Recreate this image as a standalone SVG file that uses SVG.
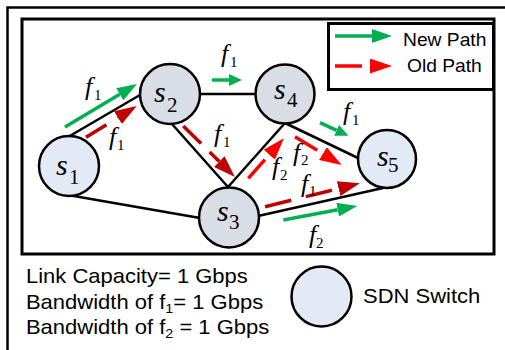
<svg xmlns="http://www.w3.org/2000/svg" width="505" height="350" viewBox="0 0 505 350">
<style>
.frame{fill:none;stroke:#000}
.edge{stroke:#000;stroke-width:2.5;fill:none}
.node{stroke:#000;stroke-width:2.5}
.gray{fill:#d9dde5}
.light{fill:#e4eaf5}
.g{stroke:#00b050;stroke-width:3.5;fill:none}
.r{stroke:#ff0000;stroke-width:3.5;fill:none}
.rd{stroke:#c00000;stroke-width:3.5;fill:none}
.sl{font-family:"Liberation Serif","Times New Roman",serif;font-style:italic;font-size:30px;fill:#000}
.ss{font-family:"Liberation Serif","Times New Roman",serif;font-style:normal;font-size:21px;fill:#000}
.fl{font-family:"Liberation Serif","Times New Roman",serif;font-style:italic;font-size:26px;fill:#000}
.fs{font-family:"Liberation Serif","Times New Roman",serif;font-style:normal;font-size:15px;fill:#000}
.sans{font-family:"Liberation Sans",Arial,sans-serif;fill:#000}
</style>
<defs>
<marker id="gh" markerUnits="userSpaceOnUse" viewBox="0 0 20 14" markerWidth="20" markerHeight="14" refX="0" refY="7" orient="auto"><path d="M0,0 L20,7 L0,14 z" fill="#00b050"/></marker>
<marker id="ghs" markerUnits="userSpaceOnUse" viewBox="0 0 13 12" markerWidth="13" markerHeight="12" refX="0" refY="6" orient="auto"><path d="M0,0 L13,6 L0,12 z" fill="#00b050"/></marker>
<marker id="rh" markerUnits="userSpaceOnUse" viewBox="0 0 22 15" markerWidth="22" markerHeight="15" refX="0" refY="7.5" orient="auto"><path d="M0,0 L22,7.5 L0,15 z" fill="#ff0000"/></marker>
<marker id="rhd" markerUnits="userSpaceOnUse" viewBox="0 0 22 15" markerWidth="22" markerHeight="15" refX="0" refY="7.5" orient="auto"><path d="M0,0 L22,7.5 L0,15 z" fill="#c00000"/></marker>
</defs>
<rect width="505" height="350" fill="#fff"/>
<g id="frames">
<rect class="frame" x="7.5" y="7.5" width="520" height="370" stroke-width="2.5"/>
<rect class="frame" x="22" y="19" width="472" height="235" stroke-width="3"/>
</g>
<g id="connectors">
<line class="edge" x1="68" y1="137" x2="140" y2="95"/>
<line class="edge" x1="68" y1="195" x2="200" y2="218"/>
<line class="edge" x1="200" y1="94" x2="256" y2="94"/>
<line class="edge" x1="172" y1="124" x2="228" y2="187"/>
<line class="edge" x1="285" y1="123" x2="228" y2="187"/>
<line class="edge" x1="285" y1="123" x2="358" y2="158"/>
<line class="edge" x1="258" y1="216" x2="383" y2="188"/>
<line class="g" x1="65" y1="127" x2="119.8" y2="94.3" marker-end="url(#gh)"/>
<line class="g" x1="212" y1="80" x2="229" y2="80" marker-end="url(#ghs)"/>
<line class="g" x1="320" y1="122.7" x2="336.6" y2="130.4" marker-end="url(#ghs)"/>
<line class="g" x1="283.3" y1="220" x2="337.6" y2="209.7" marker-end="url(#gh)"/>
<line class="rd" x1="86" y1="137.3" x2="118" y2="117.6" stroke-dasharray="24 13" marker-end="url(#rhd)"/>
<line class="rd" x1="183.3" y1="126" x2="219.3" y2="161.6" stroke-dasharray="25 12" marker-end="url(#rhd)"/>
<line class="r" x1="248.3" y1="178.3" x2="269.3" y2="154.7" stroke-dasharray="25 12" marker-end="url(#rh)"/>
<line class="r" x1="295" y1="136.7" x2="322.9" y2="153.6" stroke-dasharray="26 12" marker-end="url(#rh)"/>
<line class="rd" x1="265" y1="206.7" x2="338.6" y2="188.6" stroke-dasharray="27 15" marker-end="url(#rhd)"/>
</g>
<g id="flow-labels">
<text class="fl" x="85" y="95">f</text><text class="fs" x="94" y="100">1</text>
<text class="fl" x="109" y="145">f</text><text class="fs" x="117" y="150">1</text>
<text class="fl" x="221" y="62">f</text><text class="fs" x="230" y="67">1</text>
<text class="fl" x="214" y="142">f</text><text class="fs" x="223" y="147">1</text>
<text class="fl" x="343" y="120">f</text><text class="fs" x="352" y="125">1</text>
<text class="fl" x="272" y="175">f</text><text class="fs" x="280" y="180">2</text>
<text class="fl" x="293" y="161">f</text><text class="fs" x="301" y="165">2</text>
<text class="fl" x="301" y="192">f</text><text class="fs" x="309" y="196">1</text>
<text class="fl" x="309" y="243">f</text><text class="fs" x="316" y="248">2</text>
</g>
<g id="s1"><circle class="node light" cx="69" cy="166" r="30"/><text class="sl" x="56" y="175">s</text><text class="ss" x="69" y="184">1</text></g>
<g id="s2"><circle class="node gray" cx="170" cy="94" r="30"/><text class="sl" x="154" y="102">s</text><text class="ss" x="167" y="112">2</text></g>
<g id="s3"><circle class="node gray" cx="229" cy="217.5" r="30"/><text class="sl" x="217" y="221">s</text><text class="ss" x="229" y="229">3</text></g>
<g id="s4"><circle class="node gray" cx="285" cy="94" r="29.5"/><text class="sl" x="274" y="99">s</text><text class="ss" x="287" y="107">4</text></g>
<g id="s5"><circle class="node light" cx="387" cy="159" r="29"/><text class="sl" x="377" y="166">s</text><text class="ss" x="388" y="172">5</text></g>
<g id="legend">
<rect x="328.5" y="23.5" width="165" height="66" fill="#fff" stroke="#000" stroke-width="3"/>
<line class="g" x1="335" y1="36" x2="372" y2="36" marker-end="url(#gh)"/>
<line class="r" x1="335" y1="66" x2="370" y2="66" stroke-dasharray="27 100" marker-end="url(#rh)"/>
<g transform="scale(1.1 1)">
<text class="sans" x="366.4" y="45.7" font-size="17.5">New Path</text>
<text class="sans" x="370" y="71.7" font-size="17.5">Old Path</text>
</g>
</g>
<g id="notes">
<circle class="node light" cx="321.5" cy="296.5" r="30"/>
<g transform="scale(1.1 1)">
<text class="sans" x="23.6" y="283" font-size="20">Link Capacity= 1 Gbps</text>
<text class="sans" x="23.6" y="309" font-size="20">Bandwidth of f<tspan font-size="13" dy="4">1</tspan><tspan dy="-4">= 1 Gbps</tspan></text>
<text class="sans" x="23.6" y="334.5" font-size="20">Bandwidth of f<tspan font-size="13" dy="4">2</tspan><tspan dy="-4"> = 1 Gbps</tspan></text>
<text class="sans" x="330" y="303" font-size="20">SDN Switch</text>
</g>
</g>
</svg>
